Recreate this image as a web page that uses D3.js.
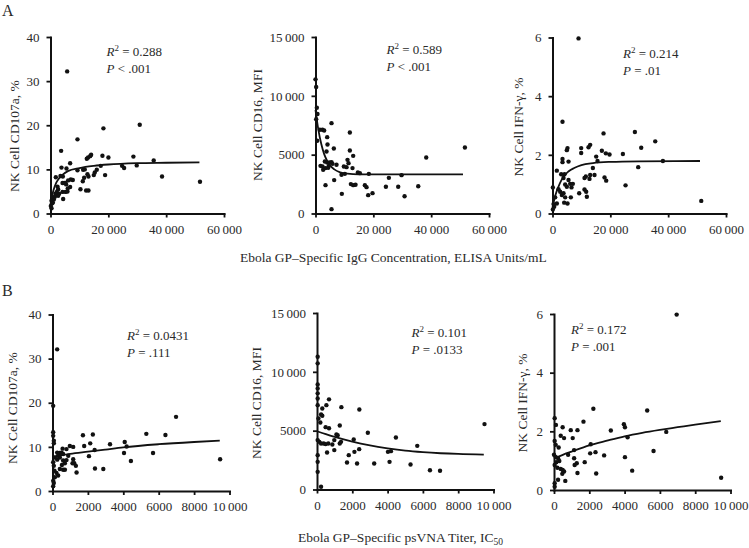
<!DOCTYPE html>
<html>
<head>
<meta charset="utf-8">
<script src="https://cdn.jsdelivr.net/npm/d3@7"></script>
<style>
body { margin: 0; background: #fff; }
text { font-family: "Liberation Serif", "DejaVu Serif", serif; fill: #2a2a2a; }
</style>
</head>
<body>
<script>
// values: [antibody value, NK readout]
var iggCd107a = [[5760,32.2],[18300,19.3],[30860,20.1],[9330,16.8],[3680,14.2],[28670,12.9],[35690,12.0],[17960,13.1],[20030,12.7],[38570,8.4],[51700,7.2],[12550,12.4],[13010,12.7],[13700,13.0],[14050,13.3],[6790,11.4],[3800,10.4],[5530,10.2],[1840,8.2],[3450,8.5],[4260,8.4],[9330,9.8],[11280,9.9],[11860,10.0],[16000,9.9],[17390,10.8],[24750,10.8],[25450,10.3],[29820,10.9],[14970,8.7],[15310,9.3],[18880,8.7],[11630,8.1],[11170,7.3],[12780,8.9],[13130,8.4],[7710,7.6],[7020,7.7],[6100,7.5],[5180,6.9],[6790,6.0],[5990,5.7],[5410,6.6],[4720,6.9],[4150,6.9],[10360,5.5],[12320,5.2],[13130,5.2],[4150,4.9],[5180,4.9],[5870,5.0],[4380,3.3],[2420,6.1],[2650,5.5],[2190,4.9],[1730,4.5],[2070,4.2],[2990,4.5],[2650,4.0],[1500,3.8],[920,3.5],[350,2.9],[580,2.3],[120,1.7],[350,1.2],[810,2.5],[1150,3.2]];
var iggCd16 = [[0,11400],[230,10750],[460,8990],[690,8450],[230,8020],[1500,7120],[2420,7120],[3000,7060],[5540,7680],[11880,6890],[4040,6490],[580,6180],[4150,5870],[6340,5530],[3810,5270],[11880,5360],[13030,4900],[11070,4560],[11420,4280],[3230,4420],[4040,4340],[4960,4340],[5540,4370],[5880,4220],[7270,4140],[4610,4050],[1730,4050],[2420,4000],[3460,3860],[4380,3880],[2650,3710],[9800,4000],[10730,3940],[12800,3860],[14650,3490],[15340,3430],[18450,3370],[9000,3290],[10150,3370],[6460,2840],[3460,2410],[12230,2500],[13030,2410],[13840,2440],[17070,2410],[17650,2240],[18220,1560],[19720,1730],[24340,2270],[28600,2270],[35530,2320],[25370,3030],[29760,3260],[30800,1470],[38290,4760],[51670,5610],[9110,1670],[5540,370]];
var iggIfng = [[9000,5.97],[3460,3.13],[17650,2.73],[28490,2.78],[35530,2.46],[30680,2.24],[13030,2.34],[12460,2.26],[9920,2.23],[9920,2.06],[5190,2.23],[4960,2.16],[17070,2.14],[18450,2.05],[19720,2.01],[24340,2.03],[3460,1.86],[3460,1.75],[5540,1.77],[15570,1.79],[15110,1.94],[38180,1.79],[29640,1.58],[1500,1.46],[3000,1.34],[4150,1.34],[3810,1.21],[13960,1.55],[11530,1.26],[13030,1.31],[14530,1.31],[12800,1.18],[11070,1.21],[17990,1.23],[18570,1.12],[5540,1.14],[6110,1.01],[7040,1.01],[6570,0.89],[4960,0.91],[4380,0.99],[25260,0.96],[11070,0.82],[11650,0.74],[11880,0.57],[9230,0.69],[2080,0.83],[2650,0.74],[3230,0.63],[3810,0.69],[4380,0.55],[5190,0.34],[6340,0.55],[4040,0.37],[920,0.55],[1500,0.34],[580,0.23],[120,0.14],[350,0.32],[51440,0.43],[120,0.89]];
var vnaCd107a = [[264,32.1],[38,19.3],[6980,16.8],[5300,12.95],[6380,12.7],[1720,12.65],[2280,12.8],[4080,11.1],[4190,10.1],[3250,10.6],[2130,10.8],[1790,10.2],[980,10.2],[1170,10.0],[38,13.3],[38,12.5],[75,11.4],[75,10.8],[570,9.6],[790,9.5],[2380,9.3],[4040,8.6],[5680,8.6],[2060,7.9],[9470,7.2],[4430,6.8],[2400,5.1],[2870,5.0],[264,8.7],[400,8.6],[510,8.7],[600,8.4],[320,8.0],[415,7.6],[130,7.6],[264,7.1],[600,6.9],[700,6.3],[530,5.9],[790,7.0],[890,8.0],[1170,7.2],[1230,6.3],[1320,5.7],[1360,4.2],[1130,6.3],[600,4.8],[700,4.8],[415,5.0],[226,4.1],[320,3.5],[130,3.1],[38,2.3],[75,1.8],[38,1.1],[75,5.7],[113,4.6],[38,6.5]];
var vnaCd16 = [[38,11280],[38,10720],[38,8930],[38,8590],[38,8170],[38,7740],[38,7170],[680,7660],[530,7170],[300,6890],[1380,7000],[2400,6800],[230,6380],[300,6270],[80,6040],[190,5700],[490,5300],[680,5200],[1290,5440],[2880,4820],[1100,4680],[1170,4620],[4470,4420],[38,4200],[130,4050],[230,3910],[380,3910],[490,3860],[640,3910],[870,3830],[980,4200],[1290,3910],[1360,4050],[2080,4250],[5680,3710],[2390,3430],[4020,3200],[4190,3260],[570,3150],[980,3350],[1800,2920],[2120,3200],[38,2920],[38,2350],[38,1500],[1700,2300],[2270,2210],[3240,2210],[4110,2350],[5300,2130],[6400,1640],[6970,1590],[9490,5560],[230,230]];
var vnaIfng = [[6950,5.98],[2230,2.77],[5280,2.71],[1670,2.33],[38,2.45],[110,2.22],[490,2.14],[950,2.04],[1330,2.04],[3960,2.24],[4020,2.14],[3220,2.03],[380,1.85],[570,1.77],[1060,1.77],[4170,1.8],[38,1.67],[95,1.54],[6360,1.98],[265,1.45],[2080,1.56],[1140,1.36],[800,1.2],[2050,1.25],[2350,1.29],[2840,1.18],[5640,1.33],[4020,1.12],[0,1.2],[95,1.13],[230,1.08],[300,0.99],[130,0.95],[38,0.85],[1140,1.08],[1290,0.91],[1170,0.85],[1740,0.95],[190,0.76],[380,0.72],[490,0.68],[570,0.63],[470,0.55],[1330,0.58],[2390,0.56],[4430,0.66],[230,0.35],[640,0.31],[38,0.23],[38,0.11],[9470,0.42]];

// fitted curves
var fitIggCd107a = [[0,2.0],[500,3.8],[1000,5.2],[2000,7.0],[3000,8.0],[4000,8.7],[6000,9.6],[10000,10.3],[15000,10.8],[20000,11.1],[30000,11.4],[40000,11.5],[51500,11.6]];
var fitIggCd16 = [[0,8800],[500,7900],[1000,7100],[2000,5900],[3000,5050],[4000,4500],[5000,4100],[6500,3750],[8500,3500],[11000,3380],[15000,3330],[51000,3320]];
var fitIggIfng = [[0,0.2],[1000,0.62],[2000,0.9],[3000,1.12],[4000,1.28],[5500,1.43],[7500,1.55],[10000,1.65],[14000,1.72],[20000,1.76],[30000,1.78],[51000,1.79]];
var fitVnaCd107a = [[0,7.7],[500,8.1],[1000,8.4],[2000,8.9],[3000,9.4],[4000,9.9],[6000,10.6],[8000,11.1],[9450,11.4]];
var fitVnaCd16 = [[0,4950],[500,4700],[1000,4470],[2000,4070],[3000,3750],[4000,3500],[5000,3300],[6000,3170],[7000,3080],[8000,3020],[9450,2970]];
var fitVnaIfng = [[0,1.07],[500,1.2],[1000,1.31],[2000,1.52],[3000,1.68],[4000,1.83],[5000,1.95],[6000,2.05],[7000,2.14],[8000,2.23],[9450,2.35]];

var iggTicks = [0, 20000, 40000, 60000];
var vnaTicks = [0, 2000, 4000, 6000, 8000, 10000];
var cd107aTicks = [0, 10, 20, 30, 40];
var cd16Ticks = [0, 5000, 10000, 15000];
var ifngTicks = [0, 2, 4, 6];

var yTitles = ["NK Cell CD107a, %", "NK Cell CD16, MFI", "NK Cell IFN-\u03b3, %"];
var r2Labels = ["0.288", "0.589", "0.214", "0.0431", "0.101", "0.172"];
var pLabels = ["< .001", "< .001", "= .01", "= .111", "= .0133", "= .001"];

var W = 749, H = 548;
var svg = d3.select("body").append("svg").attr("width", W).attr("height", H);

function fmt(v) {
  return v >= 10000 ? d3.format(",")(v).replace(/,/g, "\u2009") : String(v);
}

var panels = [
  {pts: iggCd107a, fit: fitIggCd107a, xt: iggTicks, yt: cd107aTicks, yl: 0, x0: 50.5, y0: 213.5, yTop: 37, xEnd: 224, sx: 56, sy: 56, lab: [14, 136]},
  {pts: iggCd16, fit: fitIggCd16, xt: iggTicks, yt: cd16Ticks, yl: 1, x0: 315.5, y0: 213.5, yTop: 37, xEnd: 489, sx: 71, sy: 54, lab: [257, 125]},
  {pts: iggIfng, fit: fitIggIfng, xt: iggTicks, yt: ifngTicks, yl: 2, x0: 552.5, y0: 213.5, yTop: 37.5, xEnd: 726, sx: 70.5, sy: 58, lab: [518, 127]},
  {pts: vnaCd107a, fit: fitVnaCd107a, xt: vnaTicks, yt: cd107aTicks, yl: 0, x0: 52.5, y0: 491, yTop: 314.5, xEnd: 229.5, sx: 74.5, sy: 340, lab: [12, 408]},
  {pts: vnaCd16, fit: fitVnaCd16, xt: vnaTicks, yt: cd16Ticks, yl: 1, x0: 317, y0: 489.5, yTop: 313, xEnd: 493.5, sx: 94.5, sy: 337, lab: [256, 403]},
  {pts: vnaIfng, fit: fitVnaIfng, xt: vnaTicks, yt: ifngTicks, yl: 2, x0: 554, y0: 490, yTop: 314, xEnd: 730.5, sx: 17, sy: 334, lab: [522, 403]}
];

panels.forEach(function(p, i) {
  var x = d3.scaleLinear()
    .domain([0, d3.max(p.xt)])
    .range([p.x0, p.xEnd]);
  var y = d3.scaleLinear()
    .domain([0, d3.max(p.yt)])
    .range([p.y0, p.yTop]);

  var g = svg.append("g");

  var xa = g.append("g")
    .attr("transform", "translate(0," + p.y0 + ")")
    .call(d3.axisBottom(x).tickValues(p.xt).tickFormat(fmt)
      .tickSize(4).tickSizeOuter(0).tickPadding(7));
  var ya = g.append("g")
    .attr("transform", "translate(" + p.x0 + ",0)")
    .call(d3.axisLeft(y).tickValues(p.yt).tickFormat(fmt)
      .tickSize(4).tickSizeOuter(0).tickPadding(7));

  [xa, ya].forEach(function(a) {
    a.select(".domain").attr("stroke", "#111").attr("stroke-width", 2)
      .attr("stroke-linecap", "square");
    a.selectAll(".tick line").attr("stroke", "#111").attr("stroke-width", 1.8);
    a.selectAll(".tick text")
      .style("font-family", '"Liberation Serif", serif')
      .style("font-size", "13px")
      .attr("fill", "#333");
  });

  g.selectAll("circle.pt")
    .data(p.pts)
    .enter()
    .append("circle")
    .attr("class", "pt")
    .attr("cx", function(d) { return x(d[0]); })
    .attr("cy", function(d) { return y(d[1]); })
    .attr("r", 2.2)
    .attr("fill", "#111");

  var line = d3.line()
    .x(function(d) { return x(d[0]); })
    .y(function(d) { return y(d[1]); })
    .curve(d3.curveMonotoneX);

  g.append("path")
    .datum(p.fit)
    .attr("d", line)
    .attr("fill", "none")
    .attr("stroke", "#111")
    .attr("stroke-width", 1.8);

  // y title
  g.append("text")
    .attr("transform", "translate(" + p.lab[0] + "," + p.lab[1] + ") rotate(-90)")
    .attr("text-anchor", "middle")
    .attr("dy", "0.35em")
    .style("font-size", "13.5px")
    .text(yTitles[p.yl]);

  // stats
  var t1 = g.append("text")
    .attr("x", p.x0 + p.sx)
    .attr("y", p.sy)
    .style("font-size", "13px");
  t1.append("tspan").style("font-style", "italic").text("R");
  t1.append("tspan").attr("dy", -5).style("font-size", "9px").text("2");
  t1.append("tspan").attr("dy", 5).text(" = " + r2Labels[i]);

  var t2 = g.append("text")
    .attr("x", p.x0 + p.sx)
    .attr("y", p.sy + 16.5)
    .style("font-size", "13px");
  t2.append("tspan").style("font-style", "italic").text("P");
  t2.append("tspan").text(" " + pLabels[i]);
});

// panel letters
svg.append("text").attr("x", 2).attr("y", 16).style("font-size", "16px").text("A");
svg.append("text").attr("x", 2).attr("y", 296).style("font-size", "16px").text("B");

// x titles
svg.append("text").attr("x", 240).attr("y", 261.5).style("font-size", "13.5px")
  .text("Ebola GP\u2013Specific IgG Concentration, ELISA Units/mL");
var bt = svg.append("text").attr("x", 298).attr("y", 541.5).style("font-size", "13.5px");
bt.append("tspan").text("Ebola GP\u2013Specific psVNA Titer, IC");
bt.append("tspan").attr("dy", 3).style("font-size", "9.5px").text("50");
</script>
</body>
</html>
